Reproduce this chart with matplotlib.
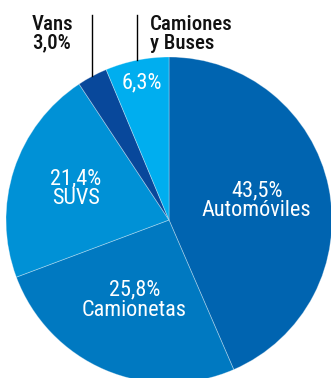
import numpy as np
import matplotlib
matplotlib.use("Agg")
import matplotlib.pyplot as plt

# Data
categories = ["Automóviles", "Camionetas", "SUVS", "Vans", "Camiones\ny Buses"]
shares = [43.5, 25.8, 21.4, 3.0, 6.3]
colors = ["#0064b0", "#0079c1", "#0091d6", "#08489b", "#00aeef"]

plt.rcParams['font.family'] = ['Roboto Condensed', 'Liberation Sans', 'DejaVu Sans']

W, H = 331, 378
fig = plt.figure(figsize=(W / 100, H / 100), dpi=100)
ax = fig.add_axes([0, 0, 1, 1])

cx, cy, r = 169, H - 220, 163
wedges, _ = ax.pie(shares, colors=colors, startangle=90, counterclock=False,
                   center=(cx, cy), radius=r,
                   wedgeprops=dict(edgecolor=(1, 1, 1, 0.35), linewidth=0.6))

ax.set_xlim(0, W)
ax.set_ylim(0, H)
ax.set_aspect('equal')
ax.axis('off')

def fmt(v):
    return f"{v:.1f}".replace(".", ",") + "%"

# labels inside the big slices (distance as fraction of radius)
inside = {0: 0.55, 1: 0.54, 2: 0.6, 4: 0.85}
for i, d in inside.items():
    w = wedges[i]
    mid = np.deg2rad((w.theta1 + w.theta2) / 2)
    x = cx + d * r * np.cos(mid)
    y = cy + d * r * np.sin(mid)
    txt = fmt(shares[i]) if i == 4 else fmt(shares[i]) + "\n" + categories[i]
    ax.text(x, y + 1, txt, color="white", fontsize=16, ha="center", va="center",
            linespacing=0.95)

# leader lines for the small slices
top_y = H - 15
for i in (3, 4):
    w = wedges[i]
    mid = np.deg2rad((w.theta1 + w.theta2) / 2)
    x = cx + r * np.cos(mid)
    y = cy + r * np.sin(mid)
    ax.plot([x, x], [y, top_y], color="black", lw=1)

ax.text(32, H - 34, categories[3] + "\n" + fmt(shares[3]), color="#111111",
        fontsize=15, fontweight=500, ha="left", va="center",
        linespacing=0.95)
ax.text(150, H - 34, categories[4], color="#111111", fontsize=15,
        fontweight=500, ha="left", va="center", linespacing=0.95)

fig.savefig("out.png", dpi=100)
